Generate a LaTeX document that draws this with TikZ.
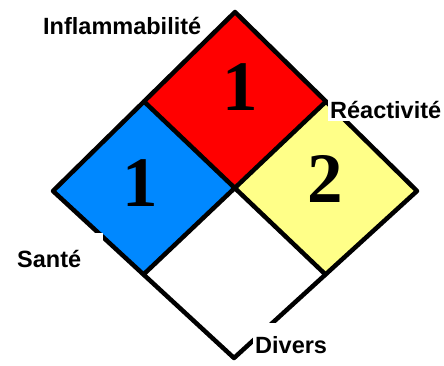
\documentclass[tikz,border=0pt]{standalone}
\usepackage{fontspec}
\usetikzlibrary{calc}
\setmainfont{Liberation Sans}
\newfontfamily\numfont{Liberation Serif}
\definecolor{nfred}{RGB}{255,0,0}
\definecolor{nfblue}{RGB}{0,136,255}
\definecolor{nfyellow}{RGB}{255,255,136}
\begin{document}
\begin{tikzpicture}[x=1pt,y=-1pt,
  edge/.style={line width=4.5pt,line join=round,line cap=round},
  lbl/.style={font=\fontsize{23.5}{26}\selectfont\bfseries,fill=white,inner sep=2pt,anchor=base west},
  num/.style={font=\fontsize{71}{71}\selectfont\numfont\bfseries}]
\useasboundingbox (0,0) rectangle (444,366);
\fill[white] (0,0) rectangle (444,366);
\coordinate (T) at (235,12);
\coordinate (L) at (53,191);
\coordinate (R) at (417,191);
\coordinate (B) at (234,358);
\coordinate (C) at (234,186);
\coordinate (TL) at ($(T)!0.5!(L)$);
\coordinate (TR) at ($(T)!0.5!(R)$);
\coordinate (BL) at ($(B)!0.5!(L)$);
\coordinate (BR) at ($(B)!0.5!(R)$);
\fill[nfred] (T) -- (TR) -- (C) -- (TL) -- cycle;
\fill[nfblue] (TL) -- (C) -- (BL) -- (L) -- cycle;
\fill[nfyellow] (TR) -- (R) -- (BR) -- (C) -- cycle;
\fill[white] (C) -- (BR) -- (B) -- (BL) -- cycle;
\draw[edge] (T) -- (R) -- (B) -- (L) -- cycle;
\draw[edge] (TL) -- (BR);
\draw[edge] (TR) -- (BL);
\node[num] (nr) at (240,87) {1};
\node[num] (nb) at (140,183) {1};
\node[num] (ny) at (325,179) {2};
\node[lbl,inner xsep=3pt] (fl) at (40,35) {Inflammabilité};
\node[lbl] (re) at (328,119) {Réactivité};
\node[lbl,text height=32pt,text width=84pt,align=left] (sa) at (15,267) {Santé};
\node[lbl,text height=28pt,text depth=14pt] (di) at (253,353) {Divers};
\end{tikzpicture}
\end{document}
